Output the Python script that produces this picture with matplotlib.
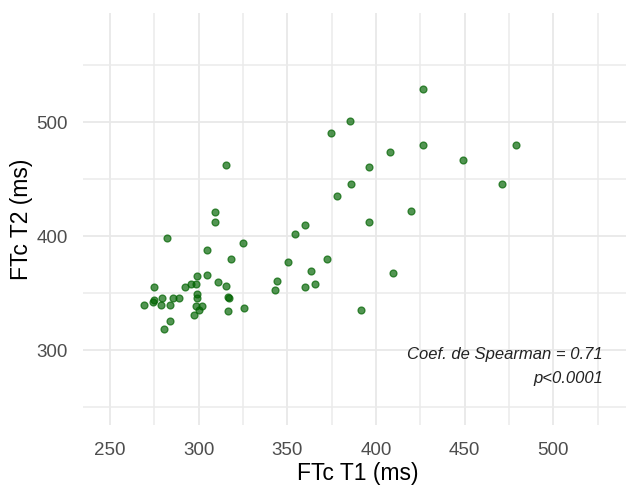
import matplotlib.pyplot as plt
import numpy as np
from matplotlib.ticker import MultipleLocator

# FTc en T1 y T2 (ms)
ftc_t1 = [426.6, 385.4, 374.5, 426.6, 479.0, 407.9, 449.3, 315.7, 396.1, 386.2,
          470.9, 377.8, 419.6, 309.4, 309.4, 396.1, 359.9, 354.5, 282.2, 324.8,
          304.8, 318.4, 372.6, 350.6, 409.5, 363.4, 304.8, 299.3, 344.4, 365.4,
          311.0, 315.7, 359.9, 342.9, 274.9, 292.2, 295.6, 298.4, 299.3, 299.3,
          316.4, 317.4, 279.5, 285.7, 288.7, 274.9, 274.1, 269.4, 278.6, 284.0,
          298.4, 302.1, 300.3, 325.8, 316.4, 391.6, 297.6, 284.0, 280.5]
ftc_t2 = [528.7, 500.7, 490.8, 479.7, 479.7, 474.1, 467.1, 462.7, 460.4, 446.1,
          446.1, 435.0, 422.2, 421.0, 412.5, 412.5, 409.6, 401.5, 398.5, 394.4,
          387.5, 380.2, 380.2, 377.5, 367.6, 369.1, 366.2, 365.0, 360.9, 358.0,
          359.5, 356.5, 355.1, 352.4, 355.1, 355.1, 358.0, 358.0, 349.5, 345.4,
          346.6, 345.4, 345.4, 345.4, 345.4, 344.2, 342.5, 339.9, 339.9, 339.9,
          338.4, 338.4, 335.5, 337.0, 334.1, 335.5, 331.1, 325.6, 318.6]

texto_coef = "Coef. de Spearman = 0.71"
texto_p = "p<0.0001"

plt.rcParams["font.family"] = ["Liberation Sans", "DejaVu Sans"]

fig = plt.figure(figsize=(6.26, 4.86), dpi=100)
ax = fig.add_axes([83 / 626, 61 / 486, 550 / 626, 412.3 / 486])

ax.plot(ftc_t1, ftc_t2, linestyle="none", marker="o", markersize=5.0,
        markerfacecolor=(0, 0.39, 0, 0.68), markeredgecolor=(0, 0.39, 0, 0.7),
        markeredgewidth=0.9, zorder=3)

ax.set_xlim(234.8, 545)
ax.set_ylim(234.5, 595.8)

# estilo tipo theme_minimal
ax.xaxis.set_major_locator(MultipleLocator(50))
ax.xaxis.set_minor_locator(MultipleLocator(25))
ax.yaxis.set_major_locator(MultipleLocator(100))
ax.yaxis.set_minor_locator(MultipleLocator(50))
ax.grid(which="major", color="#E8E8E8", linewidth=1.3)
ax.grid(which="minor", color="#EBEBEB", linewidth=1.1)
ax.set_axisbelow(True)
for s in ax.spines.values():
    s.set_visible(False)
ax.tick_params(which="both", length=0)
ax.tick_params(axis="x", labelsize=13.5, colors="#4D4D4D", pad=12)
ax.tick_params(axis="y", labelsize=13.5, colors="#4D4D4D", pad=11)

ax.set_xlabel("FTc T1 (ms)", fontsize=16.5)
ax.set_ylabel("FTc T2 (ms)", fontsize=16.5)
ax.xaxis.set_label_coords(0.5, -(462 - 425) / 412.3)
ax.yaxis.set_label_coords(-(83 - 33) / 550, 0.5)

ax.text(528, 296, texto_coef, style="italic", fontsize=12, color="#222222",
        ha="right", va="center")
ax.text(528, 275, texto_p, style="italic", fontsize=12, color="#222222",
        ha="right", va="center")

fig.savefig("out.png", dpi=100)
